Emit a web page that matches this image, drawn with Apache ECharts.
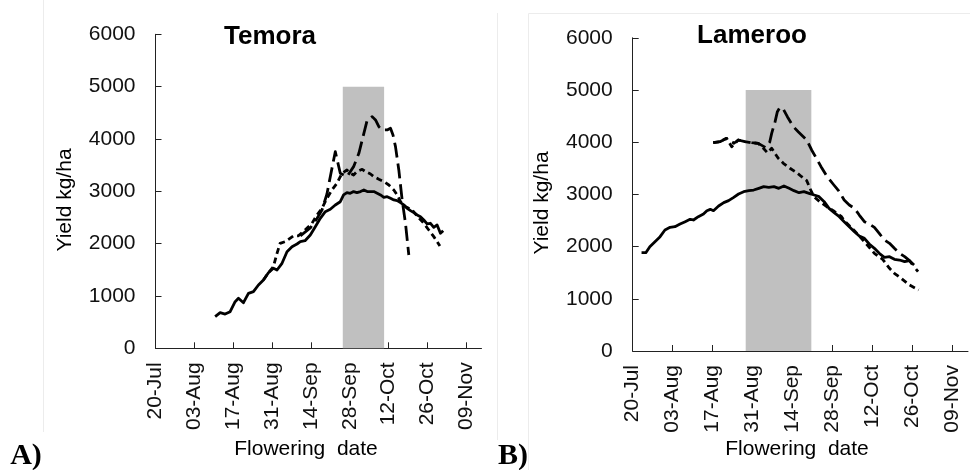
<!DOCTYPE html>
<html><head><meta charset="utf-8">
<script src="https://cdn.jsdelivr.net/npm/echarts@6/dist/echarts.min.js"></script>
<style>html,body{margin:0;padding:0;background:#fff}#c{width:970px;height:470px}</style>
</head><body><div id="c"></div>
<script>
// x values are days after 20-Jul
const tickLabels = ['20-Jul','03-Aug','17-Aug','31-Aug','14-Sep','28-Sep','12-Oct','26-Oct','09-Nov'];
const tickStep = 14;
const xMaxDays = 117.5;

const temoraShade = [67.5, 82.4];
const lamerooShade = [39.6, 62.6];
const shadeTop = 5000;

const temoraSolid = [[21.5,604],[23.3,680],[25.1,655],[26.9,700],[28.7,890],[29.9,955],[31.7,871],[33.5,1051],[35.3,1082],[37.1,1210],[38.9,1305],[40.7,1445],[42.5,1529],[43.8,1496],[45.6,1624],[47.4,1846],[49.2,1942],[51.0,1993],[52.2,2037],[53.9,2056],[55.8,2165],[57.6,2324],[59.4,2484],[61.2,2610],[63.0,2656],[64.8,2738],[66.6,2801],[67.8,2930],[69.0,2975],[70.2,2962],[71.4,2994],[72.6,2975],[73.9,2994],[75.1,3025],[76.3,2994],[77.5,2994],[78.7,2994],[79.9,2962],[81.1,2930],[82.3,2885],[83.5,2898],[84.7,2866],[85.9,2834],[87.1,2822],[88.3,2783],[89.5,2739],[90.7,2675],[91.9,2631],[93.1,2592],[94.3,2548],[95.5,2516],[96.7,2452],[97.9,2376],[99.1,2389],[100.3,2312],[101.5,2357],[102.7,2197],[103.7,2248]];
const temoraShortDash = [[38.9,1305],[40.7,1445],[42.5,1559],[43.8,1815],[44.9,2006],[46.7,2037],[49.7,2146],[51.5,2150],[53.9,2261],[56.4,2389],[58.2,2548],[60.0,2675],[61.8,2866],[63.6,3025],[65.4,3153],[67.2,3344],[69.0,3407],[70.2,3344],[71.4,3312],[72.6,3376],[74.5,3420],[75.7,3376],[77.5,3331],[78.7,3280],[80.5,3229],[82.3,3185],[84.1,3121],[85.9,3025],[87.1,2930],[88.3,2803],[90.1,2707],[92.5,2643],[94.3,2529],[96.7,2389],[98.5,2261],[100.3,2134],[102.5,1955]];
const temoraLongDash = [[52.2,2150],[55.8,2300],[58.2,2480],[60.0,2640],[61.8,2950],[63.0,3280],[64.8,3757],[66.6,3344],[69.0,3280],[71.4,3471],[73.3,3726],[75.1,4108],[76.3,4363],[78.1,4427],[79.3,4363],[80.5,4236],[81.7,4172],[83.5,4172],[84.7,4204],[85.6,4076],[86.5,3854],[87.7,3408],[88.9,2834],[90.1,2389],[91.3,1783]];

const lamerooSolid = [[3.1,1884],[4.6,1884],[6.0,1999],[7.8,2095],[9.6,2190],[11.3,2318],[13.1,2369],[14.8,2382],[16.6,2433],[18.4,2478],[20.1,2522],[21.3,2510],[23.0,2573],[24.8,2624],[26.0,2688],[27.2,2714],[28.3,2688],[30.1,2778],[31.9,2842],[33.6,2880],[35.4,2944],[37.1,3008],[38.9,3052],[40.7,3072],[42.4,3084],[44.2,3116],[45.9,3148],[47.7,3135],[49.5,3148],[51.2,3116],[53.0,3161],[54.8,3116],[56.5,3072],[58.3,3033],[60.0,3052],[61.8,3020],[63.6,2988],[65.3,2957],[67.1,2861],[68.8,2733],[70.6,2650],[72.4,2573],[74.1,2478],[75.9,2382],[77.7,2286],[79.4,2203],[81.2,2158],[82.9,2050],[84.7,1967],[86.4,1871],[88.2,1794],[90.0,1807],[91.7,1756],[93.5,1743],[95.3,1711],[97.0,1731],[98.6,1648]];
const lamerooShortDash = [[28.2,3990],[30.6,4010],[32.9,4074],[34.7,3914],[37.0,4042],[39.3,4010],[41.7,3990],[44.0,3978],[45.8,3883],[47.2,3799],[48.7,3883],[51.0,3691],[52.8,3595],[55.1,3500],[57.5,3416],[59.2,3339],[61.0,3263],[62.1,3117],[63.5,2956],[65.6,2860],[68.0,2764],[70.3,2688],[73.2,2573],[74.1,2500],[77.7,2305],[81.2,2095],[84.7,1871],[87.6,1756],[90.0,1584],[91.7,1488],[94.1,1392],[97.0,1264],[100.2,1169]];
const lamerooLongDash = [[28.2,3990],[30.6,4010],[32.9,4074],[35.5,3980],[37.0,4042],[39.3,4010],[41.7,3990],[44.0,3978],[46.5,3900],[48.0,4000],[48.7,4170],[49.9,4393],[50.7,4585],[51.6,4668],[52.8,4630],[54.2,4489],[56.3,4297],[58.0,4201],[59.8,4105],[61.0,4042],[62.7,3851],[64.5,3680],[66.0,3531],[68.0,3352],[70.5,3180],[72.2,3068],[74.1,2893],[75.9,2797],[77.7,2733],[79.4,2605],[81.2,2478],[82.9,2433],[84.7,2369],[86.4,2254],[88.2,2126],[90.0,2063],[91.7,1967],[93.5,1871],[95.3,1807],[97.0,1731],[98.6,1616],[100.0,1520]];

const panelTitles = ['Temora','Lameroo'];
const panelLetters = ['A)','B)'];
const xName = 'Flowering  date';
const yName = 'Yield kg/ha';

const tickDays = tickLabels.map((_, i) => i * tickStep);
const FONT = "'Liberation Sans', Arial, sans-serif";
const AX = '#222';

function xAxis(gi) {
  return {
    type: 'value', gridIndex: gi, min: 0, max: xMaxDays, interval: tickStep,
    axisLine: { show: true, lineStyle: { color: AX, width: 1 } },
    axisTick: { show: true, inside: true, length: 6, customValues: tickDays, lineStyle: { color: AX } },
    axisLabel: { customValues: tickDays, rotate: 90, margin: 14, fontSize: 21, color: '#111', fontFamily: FONT,
      formatter: v => tickLabels[Math.round(v / tickStep)] || '' },
    splitLine: { show: false }
  };
}
function yAxis(gi) {
  return {
    type: 'value', gridIndex: gi, min: 0, max: 6000, interval: 1000,
    axisLine: { show: true, lineStyle: { color: AX, width: 1 } },
    axisTick: { show: true, inside: true, length: 6, lineStyle: { color: AX } },
    axisLabel: { margin: 20, fontSize: 21, color: '#111', fontFamily: FONT, formatter: v => String(v) },
    splitLine: { show: false }
  };
}
function line(gi, data, type, shade) {
  const s = {
    type: 'line', xAxisIndex: gi, yAxisIndex: gi, data: data, showSymbol: false, symbol: 'none',
    silent: true, lineStyle: { color: '#000', width: 2.8, type: type, cap: 'butt', join: 'round' }
  };
  if (shade) {
    s.markArea = { silent: true, itemStyle: { color: '#c0c0c0' },
      data: [[{ xAxis: shade[0], yAxis: 0 }, { xAxis: shade[1], yAxis: shadeTop }]] };
  }
  return s;
}
function txt(text, x, y, font, extra) {
  return Object.assign({ type: 'text', x: x, y: y, silent: true,
    style: { text: text, font: font, fill: '#000', align: 'center', verticalAlign: 'middle' } }, extra || {});
}

const chart = echarts.init(document.getElementById('c'), null, { renderer: 'canvas' });
chart.setOption({
  animation: false,
  backgroundColor: '#fff',
  grid: [
    { left: 155.5, top: 34.3, width: 326, height: 314 },
    { left: 632.7, top: 37.8, width: 335.3, height: 313.2 }
  ],
  xAxis: [xAxis(0), xAxis(1)],
  yAxis: [yAxis(0), yAxis(1)],
  series: [
    line(0, temoraSolid, 'solid', temoraShade),
    line(0, temoraShortDash, [6, 4]),
    line(0, temoraLongDash, [15, 6]),
    line(1, lamerooSolid, 'solid', lamerooShade),
    line(1, lamerooShortDash, [6, 4]),
    line(1, lamerooLongDash, [15, 6])
  ],
  graphic: [
    { type: 'line', silent: true, shape: { x1: 43.5, y1: 0, x2: 43.5, y2: 432 }, style: { stroke: '#ececec', lineWidth: 1 } },
    { type: 'line', silent: true, shape: { x1: 497.5, y1: 13, x2: 497.5, y2: 440 }, style: { stroke: '#ececec', lineWidth: 1 } },
    { type: 'line', silent: true, shape: { x1: 528.5, y1: 13.5, x2: 970, y2: 13.5 }, style: { stroke: '#ececec', lineWidth: 1 } },
    { type: 'line', silent: true, shape: { x1: 528.5, y1: 13.5, x2: 528.5, y2: 470 }, style: { stroke: '#ececec', lineWidth: 1 } },
    txt(panelTitles[0], 270, 37, "bold 26px 'Liberation Sans', Arial, sans-serif"),
    txt(panelTitles[1], 752, 36, "bold 26px 'Liberation Sans', Arial, sans-serif"),
    txt(yName, 65, 200, "21px 'Liberation Sans', Arial, sans-serif", { rotation: Math.PI / 2 }),
    txt(yName, 542, 203, "21px 'Liberation Sans', Arial, sans-serif", { rotation: Math.PI / 2 }),
    txt(xName, 306, 449, "21px 'Liberation Sans', Arial, sans-serif"),
    txt(xName, 797, 449, "21px 'Liberation Sans', Arial, sans-serif"),
    txt(panelLetters[0], 26, 456, "bold 30px 'Liberation Serif', 'Times New Roman', serif"),
    txt(panelLetters[1], 513, 456, "bold 30px 'Liberation Serif', 'Times New Roman', serif")
  ]
});
</script>
</body></html>
